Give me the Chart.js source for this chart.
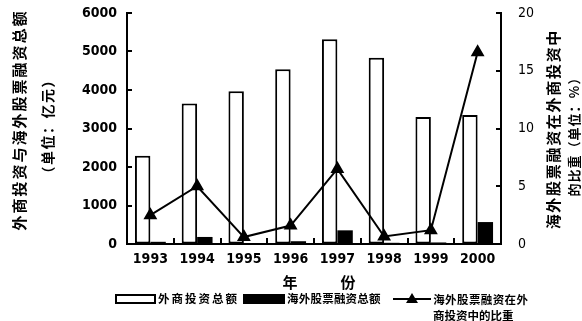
<!DOCTYPE html>
<html>
<head>
<meta charset="utf-8">
<script src="https://cdn.jsdelivr.net/npm/chart.js@4/dist/chart.umd.min.js"></script>
<style>
  html, body { margin: 0; padding: 0; background: #fff; }
  #wrap { width: 582px; height: 321px; position: relative; }
</style>
</head>
<body>
<div id="wrap"><canvas id="c"></canvas></div>
<script>
// Years on the category axis
const years = ['1993', '1994', '1995', '1996', '1997', '1998', '1999', '2000'];
// 外商投资总额 (亿元)
const foreignInvestment = [2290, 3650, 3970, 4540, 5320, 4840, 3300, 3350];
// 海外股票融资总额 (亿元)
const overseasEquity = [57, 183, 24, 72, 355, 31, 40, 570];
// 海外股票融资在外商投资中的比重 (%)
const equityShare = [2.5, 5.0, 0.6, 1.6, 6.5, 0.65, 1.2, 16.6];
// Tick values for both value axes
const amountTicks = [0, 1000, 2000, 3000, 4000, 5000, 6000];
const shareTicks = [0, 5, 10, 15, 20];
// Text
const leftTitle = ['外商投资与海外股票融资总额', '（单位：亿元）'];
const rightTitle = ['海外股票融资在外商投资中', '的比重（单位：%）'];
const xTitle = ['年', '份'];
const legendLabels = ['外商投资总额', '海外股票融资总额', '海外股票融资在外', '商投资中的比重'];

const CJK = '"Noto Sans CJK SC", sans-serif';
const NUM = '"DejaVu Sans Condensed", "DejaVu Sans", sans-serif';

function spaced(ctx, text, x, y, step) {
  const chars = Array.from(text);
  ctx.textAlign = 'center';
  ctx.textBaseline = 'middle';
  chars.forEach((ch, i) => ctx.fillText(ch, x + step / 2 + i * step, y));
}

function vertical(ctx, text, cx, cy, step) {
  const chars = Array.from(text);
  ctx.save();
  ctx.translate(cx, cy);
  ctx.rotate(-Math.PI / 2);
  const start = -chars.length * step / 2;
  spaced(ctx, text, start, 0, step);
  ctx.restore();
}

// Inward tick marks, axis titles and the legend
const decorations = {
  id: 'decorations',
  afterDraw(chart) {
    const ctx = chart.ctx;
    const {x, yL, yR} = chart.scales;
    ctx.save();
    ctx.strokeStyle = '#000';
    ctx.fillStyle = '#000';
    ctx.lineWidth = 2;
    ctx.beginPath();
    yL.ticks.forEach(t => {
      const py = Math.round(yL.getPixelForValue(t.value));
      ctx.moveTo(yL.right, py); ctx.lineTo(yL.right + 5, py);
    });
    yR.ticks.forEach(t => {
      const py = Math.round(yR.getPixelForValue(t.value));
      ctx.moveTo(yR.left, py); ctx.lineTo(yR.left - 5, py);
    });
    for (let i = 1; i < years.length; i++) {
      const px = Math.round((x.getPixelForValue(i - 1) + x.getPixelForValue(i)) / 2);
      ctx.moveTo(px, x.top); ctx.lineTo(px, x.top - 6);
    }
    ctx.stroke();

    // axis titles
    ctx.font = 'bold 15px ' + CJK;
    vertical(ctx, leftTitle[0], 19, 121, 17);
    vertical(ctx, rightTitle[0], 553, 130, 16.7);
    ctx.font = 'bold 14px ' + CJK;
    vertical(ctx, leftTitle[1], 48, 127, 15.5);
    ctx.font = 'bold 13px ' + CJK;
    vertical(ctx, rightTitle[1], 574, 134, 14);
    ctx.font = 'bold 15px ' + CJK;
    ctx.textAlign = 'center';
    ctx.textBaseline = 'middle';
    ctx.fillText(xTitle[0], 290, 282);
    ctx.fillText(xTitle[1], 348, 282);

    // legend
    const ly = 299;
    ctx.lineWidth = 2;
    ctx.strokeRect(116, 295, 39, 8);
    ctx.fillRect(243, 294, 42, 10);
    ctx.beginPath();
    ctx.moveTo(393, ly); ctx.lineTo(431, ly);
    ctx.stroke();
    ctx.beginPath();
    ctx.moveTo(412, ly - 6); ctx.lineTo(418, ly + 4); ctx.lineTo(406, ly + 4);
    ctx.closePath(); ctx.fill();
    ctx.font = 'bold 11.5px ' + CJK;
    spaced(ctx, legendLabels[0], 157, ly, 13.5);
    spaced(ctx, legendLabels[1], 287, ly, 11.7);
    spaced(ctx, legendLabels[2], 433, 300, 11.9);
    spaced(ctx, legendLabels[3], 433, 316, 11.5);
    ctx.restore();
  }
};

new Chart(document.getElementById('c'), {
  data: {
    labels: years,
    datasets: [
      {
        type: 'line', label: legendLabels[2] + legendLabels[3], data: equityShare, yAxisID: 'yR',
        borderColor: '#000', borderWidth: 2, pointStyle: 'triangle', pointRadius: 6,
        pointBackgroundColor: '#000', pointBorderColor: '#000', order: 0, tension: 0
      },
      {
        type: 'bar', label: legendLabels[0], data: foreignInvestment, yAxisID: 'yL',
        backgroundColor: '#fff', borderColor: '#000', borderWidth: 2, borderSkipped: false,
        categoryPercentage: 0.66, barPercentage: 1, order: 1
      },
      {
        type: 'bar', label: legendLabels[1], data: overseasEquity, yAxisID: 'yL',
        backgroundColor: '#000', borderColor: '#000', borderWidth: 0,
        categoryPercentage: 0.66, barPercentage: 1, order: 1
      }
    ]
  },
  options: {
    responsive: true,
    maintainAspectRatio: false,
    animation: false,
    layout: { padding: { top: 13, left: 0, right: 0, bottom: 0 } },
    plugins: { legend: { display: false }, tooltip: { enabled: false }, title: { display: false } },
    scales: {
      x: {
        type: 'category', offset: true,
        grid: { display: true, drawOnChartArea: false, drawTicks: false },
        border: { display: true, color: '#000', width: 2 },
        ticks: { color: '#000', font: { family: NUM, size: 14, weight: 'bold' }, padding: 7, maxRotation: 0, autoSkip: false },
        afterFit(s) { s.height = 77; s.paddingLeft = 0; s.paddingRight = 0; }
      },
      yL: {
        position: 'left', min: 0, max: 6000,
        afterBuildTicks(s) { s.ticks = amountTicks.map(v => ({ value: v })); },
        grid: { display: true, drawOnChartArea: false, drawTicks: false },
        border: { display: true, color: '#000', width: 2 },
        ticks: { color: '#000', font: { family: NUM, size: 14, weight: 'bold' }, padding: 10, callback: v => String(v) },
        afterFit(s) { s.width = 127; s.paddingTop = 0; s.paddingBottom = 0; }
      },
      yR: {
        position: 'right', min: 0, max: 20,
        afterBuildTicks(s) { s.ticks = shareTicks.map(v => ({ value: v })); },
        grid: { display: true, drawOnChartArea: false, drawTicks: false },
        border: { display: true, color: '#000', width: 2 },
        ticks: { color: '#000', font: { family: NUM, size: 14 }, padding: 17, callback: v => String(v) },
        afterFit(s) { s.width = 81; s.paddingTop = 0; s.paddingBottom = 0; }
      }
    }
  },
  plugins: [decorations]
});
</script>
</body>
</html>
